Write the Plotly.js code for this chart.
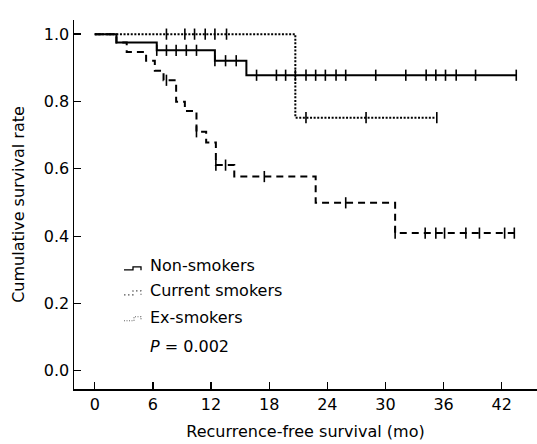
<!DOCTYPE html>
<html>
<head>
<meta charset="utf-8">
<script src="https://cdn.plot.ly/plotly-3.0.1.min.js"></script>
<style>html,body{margin:0;padding:0;background:#fff;}#chart{width:537px;height:444px;}</style>
</head>
<body>
<div id="chart"></div>
<script>
// ---- Data (months, cumulative survival) ----
const nonTimes = [0, 2.24, 6.4, 12.4, 15.65, 43.5];
const nonSurv  = [1.0, 0.975, 0.952, 0.921, 0.878, 0.878];
const nonCensor = [6.4, 7.4, 8.4, 9.45, 10.5, 12.4, 13.5, 14.6, 16.7, 18.75, 19.7, 20.7, 21.8, 22.8, 23.8, 24.9, 25.9, 29.0, 32.1, 34.2, 35.2, 36.2, 37.3, 39.3, 43.5];

const curTimes = [0, 2.24, 3.3, 5.3, 6.2, 7.1, 8.4, 9.3, 10.5, 11.5, 12.5, 14.4, 22.8, 31.0, 43.3];
const curSurv  = [1.0, 0.975, 0.947, 0.921, 0.891, 0.863, 0.799, 0.772, 0.710, 0.678, 0.611, 0.577, 0.499, 0.409, 0.409];
const curCensor = [7.4, 10.5, 12.5, 13.5, 17.5, 25.9, 31.0, 34.1, 35.2, 36.1, 38.3, 39.7, 42.3, 43.3];

const exTimes = [0, 20.7, 35.3];
const exSurv  = [1.0, 0.752, 0.752];
const exCensor = [7.4, 9.3, 10.3, 11.4, 12.4, 13.6, 21.8, 28.0, 35.3];

const groupNames = ['Non-smokers', 'Current smokers', 'Ex-smokers'];
const pText = '<i>P</i> = 0.002';
const xTicks = [0, 6, 12, 18, 24, 30, 36, 42];
const yTicks = [0, 0.2, 0.4, 0.6, 0.8, 1.0];
const yTickText = ['0.0', '0.2', '0.4', '0.6', '0.8', '1.0'];

function levelAt(times, surv, t) {
  let v = surv[0];
  for (let i = 0; i < times.length; i++) { if (t >= times[i] - 1e-9) v = surv[i]; }
  return v;
}

const FONT = 'DejaVu Sans, Verdana, sans-serif';
const groups = [
  {t: exTimes, s: exSurv, c: exCensor, dash: '2px,1.6px'},
  {t: curTimes, s: curSurv, c: curCensor, dash: '7px,5px'},
  {t: nonTimes, s: nonSurv, c: nonCensor, dash: 'solid'}
];
const traces = [];
groups.forEach(g => {
  traces.push({x: g.t, y: g.s, type: 'scatter', mode: 'lines', line: {shape: 'hv', color: '#000', width: 2, dash: g.dash}, hoverinfo: 'skip', showlegend: false});
  traces.push({x: g.c, y: g.c.map(t => levelAt(g.t, g.s, t)), type: 'scatter', mode: 'markers',
    marker: {symbol: 'line-ns-open', size: 8, color: '#000', line: {color: '#000', width: 1.6}}, hoverinfo: 'skip', showlegend: false});
});

// pixel -> paper helpers
const L = 74, R = 537, T = 20, B = 389.3;
const px = v => (v - L) / (R - L);
const py = v => (B - v) / (B - T);

const legendY = [266, 291, 318];
const annotations = groupNames.map((n, i) => ({
  xref: 'paper', yref: 'paper', x: px(148), y: py(legendY[i]), xanchor: 'left', yanchor: 'middle',
  text: n, showarrow: false, font: {family: FONT, size: 16, color: '#000'}
}));
annotations.push({xref: 'paper', yref: 'paper', x: px(148), y: py(347), xanchor: 'left', yanchor: 'middle',
  text: pText, showarrow: false, font: {family: FONT, size: 16, color: '#000'}});

function pathPx(pts) {
  return pts.map((p, i) => (i ? 'L' : 'M') + px(p[0]) + ',' + py(p[1])).join(' ');
}
const shapes = [
  {type: 'path', xref: 'paper', yref: 'paper', path: pathPx([[124, 270], [133, 270], [133, 267], [141, 267], [141, 270.5]]), line: {color: '#000', width: 1.3}},
  {type: 'path', xref: 'paper', yref: 'paper', path: pathPx([[124, 295], [133, 295], [133, 291], [141, 291], [141, 295]]), line: {color: '#555', width: 1.2, dash: '1.5px,2.5px'}},
  {type: 'path', xref: 'paper', yref: 'paper', path: pathPx([[124, 321], [134, 321], [134, 317], [141, 317], [141, 321]]), line: {color: '#666', width: 1.2, dash: '1px,1.5px'}}
];

const layout = {
  width: 537, height: 444,
  margin: {l: L, r: 0, t: T, b: 444 - B, pad: 0},
  paper_bgcolor: '#fff', plot_bgcolor: '#fff',
  font: {family: FONT, size: 16, color: '#000'},
  showlegend: false,
  xaxis: {
    range: [-2.14, 45.64], tickvals: xTicks, ticktext: xTicks.map(String),
    ticks: 'inside', ticklen: 7, tickwidth: 1.3, tickcolor: '#000',
    showline: true, linecolor: '#000', linewidth: 1.5, showgrid: false, zeroline: false,
    tickfont: {family: FONT, size: 16, color: '#000'},
    title: {text: 'Recurrence-free survival (mo)', font: {family: FONT, size: 16, color: '#000'}, standoff: 13}
  },
  yaxis: {
    range: [-0.054, 1.042], tickvals: yTicks, ticktext: yTickText,
    ticks: 'inside', ticklen: 7, tickwidth: 1.3, tickcolor: '#000',
    showline: true, linecolor: '#000', linewidth: 1.5, showgrid: false, zeroline: false,
    tickfont: {family: FONT, size: 16, color: '#000'},
    title: {text: 'Cumulative survival rate', font: {family: FONT, size: 16, color: '#000'}, standoff: 15}
  },
  annotations: annotations,
  shapes: shapes
};

Plotly.newPlot('chart', traces, layout, {staticPlot: true, displayModeBar: false});
</script>
</body>
</html>
